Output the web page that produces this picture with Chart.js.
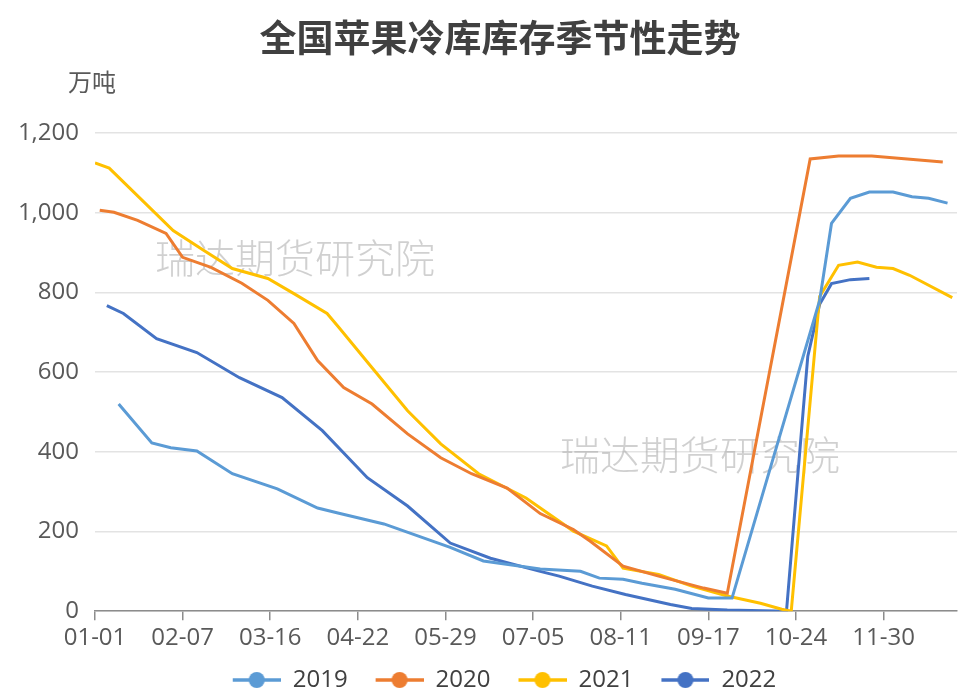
<!DOCTYPE html>
<html>
<head>
<meta charset="utf-8">
<script src="https://cdn.jsdelivr.net/npm/chart.js@4.4.1/dist/chart.umd.min.js"></script>
<style>
  html, body { margin: 0; background: #fff; }
  #wrap { width: 961px; height: 692px; }
</style>
</head>
<body>
<div id="wrap"><canvas id="chart"></canvas></div>
<script>
const chartTitle = '全国苹果冷库库存季节性走势';
const unitLabel = '万吨';
const watermark = '瑞达期货研究院';
const years = ['2019', '2020', '2021', '2022'];
const xTickLabels = ['01-01', '02-07', '03-16', '04-22', '05-29', '07-05', '08-11', '09-17', '10-24', '11-30'];
const yTicks = [0, 200, 400, 600, 800, 1000, 1200];

const dates2019 = ['01-11', '01-25', '02-02', '02-13', '02-28', '03-19', '04-05', '04-14', '05-03', '05-31', '06-14', '07-08', '07-25', '08-02', '08-12', '08-20', '09-03', '09-17', '09-27', '11-03', '11-08', '11-16', '11-24', '12-04', '12-12', '12-19', '12-27'];
const values2019 = [520, 422, 410, 402, 345, 307, 259, 246, 219, 160, 126, 106, 100, 83, 80, 70, 55, 33, 33, 780, 973, 1036, 1052, 1052, 1040, 1036, 1024];

const dates2020 = ['01-03', '01-09', '01-19', '01-31', '02-07', '02-19', '03-04', '03-15', '03-26', '04-05', '04-16', '04-28', '05-13', '05-27', '06-09', '06-24', '07-08', '07-22', '07-29', '08-12', '08-27', '09-15', '09-25', '10-30', '11-11', '11-25', '12-10', '12-25'];
const values2020 = [1006, 1001, 981, 948, 888, 863, 823, 780, 722, 629, 561, 520, 445, 385, 345, 309, 245, 205, 176, 113, 88, 58, 45, 1135, 1142, 1142, 1135, 1127];

const dates2021 = ['01-01', '01-07', '02-03', '02-16', '02-28', '03-15', '03-26', '04-09', '04-14', '04-28', '05-13', '05-27', '06-12', '07-02', '07-22', '08-05', '08-12', '08-27', '09-10', '09-25', '10-09', '10-18', '10-22', '11-03', '11-11', '11-19', '11-27', '12-04', '12-11', '12-29'];
const values2021 = [1125, 1112, 955, 905, 860, 835, 797, 747, 712, 611, 503, 420, 345, 284, 201, 164, 108, 92, 63, 38, 20, 5, 0, 790, 868, 876, 863, 860, 843, 787];

const dates2022 = ['01-06', '01-13', '01-27', '02-13', '03-03', '03-21', '04-07', '04-26', '05-13', '05-31', '06-17', '07-08', '07-16', '07-30', '08-13', '09-01', '09-10', '09-25', '10-20', '10-27', '10-29', '11-03', '11-08', '11-16', '11-24'];
const values2022 = [767, 747, 684, 649, 586, 536, 453, 335, 264, 171, 133, 100, 88, 63, 42, 17, 7, 3, 0, 500, 640, 770, 822, 832, 835];

const colors = ['#5B9BD5', '#ED7D31', '#FFC000', '#4472C4'];

const monthStart = [0, 31, 59, 90, 120, 151, 181, 212, 243, 273, 304, 334];
function dayOf(md) {
  const [m, d] = md.split('-').map(Number);
  return monthStart[m - 1] + d - 1;
}

function toPoints(dates, values) {
  return dates.map((d, i) => ({ x: dayOf(d), y: values[i] }));
}

// line + dot picture for the legend, with blank space on its left as item gap
function legendMark(color) {
  const c = document.createElement('canvas');
  c.width = 65;
  c.height = 18;
  const g = c.getContext('2d');
  g.strokeStyle = color;
  g.lineWidth = 3.5;
  g.beginPath();
  g.moveTo(17, 9);
  g.lineTo(65, 9);
  g.stroke();
  g.fillStyle = color;
  g.beginPath();
  g.arc(41, 9, 8, 0, Math.PI * 2);
  g.fill();
  return c;
}

const series = [
  toPoints(dates2019, values2019),
  toPoints(dates2020, values2020),
  toPoints(dates2021, values2021),
  toPoints(dates2022, values2022)
];

const extras = {
  id: 'extras',
  beforeDatasetsDraw(chart) {
    const ctx = chart.ctx;
    ctx.save();
    ctx.font = '300 40px "Noto Sans CJK SC"';
    ctx.fillStyle = 'rgba(170,170,170,0.55)';
    ctx.textBaseline = 'middle';
    ctx.fillText(watermark, 155, 258);
    ctx.fillText(watermark, 560, 455);
    ctx.restore();
  },
  afterDraw(chart) {
    const ctx = chart.ctx;
    ctx.save();
    ctx.textBaseline = 'middle';
    ctx.font = 'bold 37px "Noto Sans CJK SC"';
    ctx.fillStyle = '#404040';
    ctx.textAlign = 'center';
    ctx.fillText(chartTitle, 500, 38);
    ctx.font = '24px "Noto Sans CJK SC"';
    ctx.fillStyle = '#595959';
    ctx.textAlign = 'left';
    ctx.fillText(unitLabel, 68, 82);
    ctx.restore();
  }
};

Chart.defaults.font.family = '"Open Sans", "Noto Sans CJK SC", sans-serif';
Chart.defaults.color = '#595959';

new Chart(document.getElementById('chart'), {
  type: 'line',
  data: {
    datasets: years.map((y, i) => ({
      label: y,
      data: series[i],
      borderColor: colors[i],
      backgroundColor: colors[i],
      borderWidth: 3,
      pointRadius: 0,
      tension: 0
    }))
  },
  options: {
    responsive: true,
    maintainAspectRatio: false,
    animation: false,
    layout: { padding: { left: 35, right: 4, top: 133, bottom: -10 } },
    plugins: {
      title: { display: false },
      legend: {
        position: 'bottom',
        labels: {
          usePointStyle: true,
          pointStyleWidth: 65,
          boxHeight: 18,
          padding: 11,
          color: '#404040',
          font: { size: 24 },
          generateLabels(chart) {
            return chart.data.datasets.map((ds, i) => ({
              text: ds.label,
              pointStyle: legendMark(colors[i]),
              fillStyle: colors[i],
              strokeStyle: colors[i],
              lineWidth: 0,
              fontColor: '#404040',
              hidden: false,
              datasetIndex: i
            }));
          }
        }
      },
      tooltip: { enabled: false }
    },
    scales: {
      x: {
        type: 'linear',
        min: 0,
        max: 364,
        afterBuildTicks(scale) {
          scale.ticks = xTickLabels.map(l => ({ value: dayOf(l) }));
        },
        ticks: {
          autoSkip: false,
          maxRotation: 0,
          padding: 4,
          font: { size: 24 },
          color: '#595959',
          callback(value, index) { return xTickLabels[index]; }
        },
        grid: { drawOnChartArea: false, drawTicks: true, tickLength: 9, color: '#8c8c8c', lineWidth: 1.5 },
        border: { display: true, color: '#8c8c8c', width: 1.5 }
      },
      y: {
        min: 0,
        max: 1200,
        afterBuildTicks(scale) {
          scale.ticks = yTicks.map(v => ({ value: v }));
        },
        afterFit(scale) {
          scale.width = 60;
          // labels are wider than the box, don't clip them
          scale._computeLabelArea = () => undefined;
        },
        ticks: {
          padding: 16,
          font: { size: 24 },
          color: '#595959',
          callback(value) { return value.toLocaleString('en-US'); }
        },
        grid: { color: '#e3e3e3', lineWidth: 1.5, drawTicks: false },
        border: { display: false }
      }
    }
  },
  plugins: [extras]
});
</script>
</body>
</html>
